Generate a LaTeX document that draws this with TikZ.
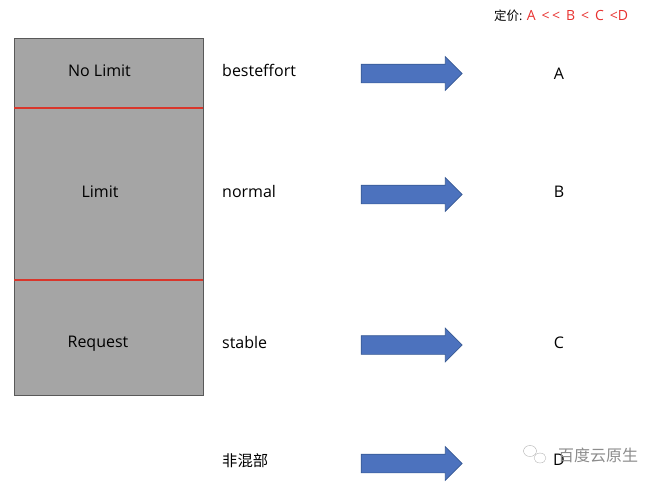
\documentclass[tikz,border=0pt]{standalone}
\usepackage{fontspec}
\setmainfont{Open Sans}
\newfontfamily\cjk{Noto Sans CJK SC}
\usetikzlibrary{shapes.arrows}
\definecolor{bodyGray}{HTML}{A5A5A5}
\definecolor{arrowBlue}{HTML}{4C72BE}
\definecolor{arrowEdge}{HTML}{375A94}
\definecolor{priceRed}{HTML}{E8312F}
\definecolor{lineRed}{HTML}{D9362B}
\tikzstyle{bodyBox}=[draw=black!65, fill=bodyGray, line width=0.7pt, minimum width=189pt, minimum height=357pt, inner sep=0pt]
\tikzstyle{redE}=[draw=lineRed, line width=1.2pt]
\tikzstyle{plainT}=[font=\fontsize{16}{18}\selectfont, inner sep=0pt]
\tikzstyle{tierT}=[plainT, anchor=west]
\tikzstyle{blueA}=[single arrow, draw=arrowEdge, fill=arrowBlue, line width=0.7pt, minimum width=33pt, minimum height=101pt, single arrow head extend=7.5pt, inner xsep=0pt, inner ysep=9pt, outer sep=0pt]
\tikzstyle{markT}=[text=black!45, font=\cjk\fontsize{16}{18}\selectfont, inner sep=0pt]
\tikzstyle{iconE}=[draw=black!30, line width=0.4pt]
\begin{document}
\begin{tikzpicture}[x=1pt, y=-1pt]
    \useasboundingbox (0,0) rectangle (657,483);

    %%%%%  Bloque de recursos  %%%%%
    \node (body) [bodyBox]  at (108.5,216.5){};
    \coordinate (l1) at (14,108);
    \coordinate (r1) at (203,108);
    \coordinate (l2) at (14,280);
    \coordinate (r2) at (203,280);
    \draw [redE] (l1) to (r1);
    \draw [redE] (l2) to (r2);

    \node (nolimit) [plainT]  at (99.5,70.5) {No Limit};
    \node (limit)   [plainT]  at (100,191.5) {Limit};
    \node (request) [plainT]  at (98,344) {Request};

    %%%%%  Clases  %%%%%
    \node (besteffort) [tierT]  at (222,70) {besteffort};
    \node (normal)     [tierT]  at (222,191) {normal};
    \node (stable)     [tierT]  at (222,342) {stable};
    \node (nomix)      [tierT, font=\cjk\fontsize{15.3}{17}\selectfont]  at (222,461) {非混部};

    %%%%%  Flechas  %%%%%
    \node (arrow1) [blueA]  at (407,73.5){};
    \node (arrow2) [blueA]  at (407,194.5){};
    \node (arrow3) [blueA]  at (407,345){};
    \node (arrow4) [blueA]  at (407,463.5){};

    %%%%%  Precios  %%%%%
    \node (A) [plainT]  at (559,73.5) {A};
    \node (B) [plainT]  at (559,191.5) {B};
    \node (C) [plainT]  at (559,342.5) {C};
    \node (D) [plainT]  at (559,459.5) {D};

    \node (price) [anchor=west, inner sep=0pt, font=\fontsize{12.5}{14}\selectfont]  at (494,15.5) {{\cjk 定价}: \textcolor{priceRed}{\fontsize{14}{16}\selectfont A\, {<}\,{<}\, B\, <\, C\, <D}};

    %%%%%  Marca de agua  %%%%%
    \draw [iconE] (530,451) ellipse (6.5pt and 5.5pt);
    \draw [iconE] (540,458) ellipse (6pt and 5pt);
    \node (wmark) [markT, anchor=west]  at (558,455) {百度云原生};
\end{tikzpicture}
\end{document}
